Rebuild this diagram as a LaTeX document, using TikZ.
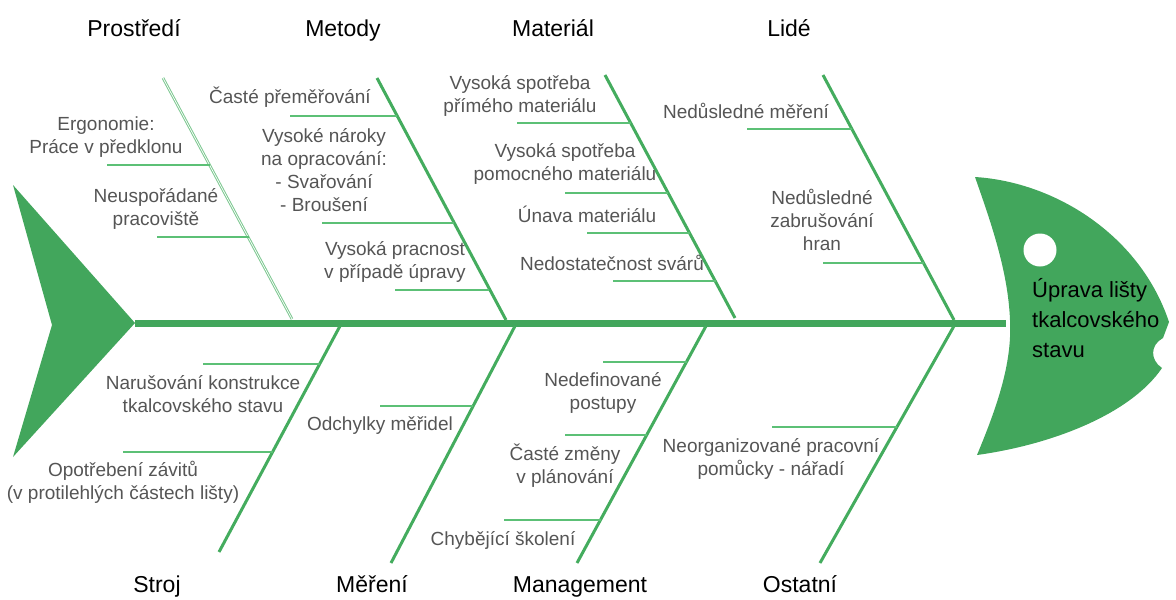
\documentclass[tikz,border=0pt]{standalone}
\usepackage{fontspec}
\setmainfont{Liberation Sans}
\definecolor{fishgreen}{RGB}{66,166,92}
\definecolor{bonegreen}{RGB}{68,172,94}
\definecolor{ribgreen}{RGB}{92,192,118}
\definecolor{palegreen}{RGB}{125,200,145}
\definecolor{causegray}{RGB}{85,85,85}
\newcommand{\causefont}{\fontsize{19}{23}\selectfont}
\newcommand{\catfont}{\fontsize{23}{27}\selectfont}
\newcommand{\headfont}{\fontsize{22}{30}\selectfont}
\begin{document}
\begin{tikzpicture}[x=1pt, y=-1pt,
    bone/.style={draw=bonegreen, line width=3pt},
    rib/.style={draw=ribgreen, line width=2pt},
    cause/.style={text=causegray, font=\causefont, align=center, inner sep=0pt, anchor=base},
    category/.style={font=\catfont, inner sep=0pt, anchor=base}]
    \useasboundingbox (0,0) rectangle (1176,600);

    % Fish: tail, head and eye
    \fill[fishgreen] (13,185) -- (135,323) -- (13,457) -- (52,325) -- cycle;
    \fill[fishgreen] (975,177) .. controls (1055,182) and (1140,235) .. (1169,322)
        -- (1163,338) .. controls (1150,345) and (1150,360) .. (1162,368)
        .. controls (1130,415) and (1050,445) .. (977,455)
        .. controls (1000,400) and (1012,360) .. (1010,320)
        .. controls (1008,270) and (990,220) .. cycle;
    \fill[white] (1040,250) circle (16.5pt);
    \node[anchor=base west, inner sep=0pt, font=\headfont, align=left] (hlava) at (1032,357)
        {Úprava lišty\\tkalcovského\\stavu};

    % Spine
    \coordinate (tail) at (135,323);
    \coordinate (head) at (1006,323);
    \draw[fishgreen, line width=7pt] (tail) -- (head);

    % Bones
    \coordinate (prostredi top) at (163,78);  \coordinate (prostredi bot) at (292,319);
    \coordinate (metody top) at (377,78);     \coordinate (metody bot) at (506,320);
    \coordinate (material top) at (605,75);   \coordinate (material bot) at (735,318);
    \coordinate (lide top) at (823,75);       \coordinate (lide bot) at (954,320);
    \coordinate (stroj top) at (340,326);     \coordinate (stroj bot) at (219,552);
    \coordinate (mereni top) at (515,326);    \coordinate (mereni bot) at (391,563);
    \coordinate (mgmt top) at (706,326);      \coordinate (mgmt bot) at (577,563);
    \coordinate (ostatni top) at (954,326);   \coordinate (ostatni bot) at (820,563);

    \draw[palegreen, line width=1pt, double=white, double distance=0.7pt] (prostredi top) -- (prostredi bot);
    \draw[bone] (metody top) -- (metody bot);
    \draw[bone] (material top) -- (material bot);
    \draw[bone] (lide top) -- (lide bot);
    \draw[bone] (stroj top) -- (stroj bot);
    \draw[bone] (mereni top) -- (mereni bot);
    \draw[bone] (mgmt top) -- (mgmt bot);
    \draw[bone] (ostatni top) -- (ostatni bot);

    % Categories
    \node[category] (prostredi) at (134,36) {Prostředí};
    \node[category] (metody) at (343,36) {Metody};
    \node[category] (material) at (553,36) {Materiál};
    \node[category] (lide) at (789,36) {Lidé};
    \node[category] (stroj) at (157,592) {Stroj};
    \node[category] (mereni) at (372,592) {Měření};
    \node[category] (mgmt) at (580,592) {Management};
    \node[category] (ostatni) at (800,592) {Ostatní};

    % Causes - Prostredi
    \node[cause] (ergo) at (106,153) {Ergonomie:\\Práce v předklonu};
    \node[cause] (neusp) at (156,225) {Neuspořádané\\pracoviště};
    \coordinate (ergo r) at (107,165);    \coordinate (ergo b) at (210,165);
    \coordinate (neusp r) at (157,237);   \coordinate (neusp b) at (249,237);
    \draw[rib] (ergo r) -- (ergo b);
    \draw[rib] (neusp r) -- (neusp b);

    % Causes - Metody
    \node[cause] (caste) at (290,103) {Časté přeměřování};
    \node[cause] (naroky) at (324,211) {Vysoké nároky\\na opracování:\\- Svařování\\- Broušení};
    \node[cause] (pracnost) at (395,278) {Vysoká pracnost\\v případě úpravy};
    \coordinate (caste r) at (290,116);     \coordinate (caste b) at (397,116);
    \coordinate (naroky r) at (322,223);    \coordinate (naroky b) at (454,223);
    \coordinate (pracnost r) at (395,290);  \coordinate (pracnost b) at (489,290);
    \draw[rib] (caste r) -- (caste b);
    \draw[rib] (naroky r) -- (naroky b);
    \draw[rib] (pracnost r) -- (pracnost b);

    % Causes - Material
    \node[cause] (spotr1) at (520,112) {Vysoká spotřeba\\přímého materiálu};
    \node[cause] (spotr2) at (565,180) {Vysoká spotřeba\\pomocného materiálu};
    \node[cause] (unava) at (587,222) {Únava materiálu};
    \node[cause] (svary) at (612,270) {Nedostatečnost svárů};
    \coordinate (spotr1 r) at (517,123);  \coordinate (spotr1 b) at (631,123);
    \coordinate (spotr2 r) at (565,193);  \coordinate (spotr2 b) at (668,193);
    \coordinate (unava r) at (587,233);   \coordinate (unava b) at (690,233);
    \coordinate (svary r) at (613,281);   \coordinate (svary b) at (716,281);
    \draw[rib] (spotr1 r) -- (spotr1 b);
    \draw[rib] (spotr2 r) -- (spotr2 b);
    \draw[rib] (unava r) -- (unava b);
    \draw[rib] (svary r) -- (svary b);

    % Causes - Lide
    \node[cause] (nedmer) at (746,118) {Nedůsledné měření};
    \node[cause] (nedzab) at (822,250) {Nedůsledné\\zabrušování\\hran};
    \coordinate (nedmer r) at (747,129);  \coordinate (nedmer b) at (852,129);
    \coordinate (nedzab r) at (823,263);  \coordinate (nedzab b) at (924,263);
    \draw[rib] (nedmer r) -- (nedmer b);
    \draw[rib] (nedzab r) -- (nedzab b);

    % Causes - Stroj
    \node[cause] (narus) at (203,412) {Narušování konstrukce\\tkalcovského stavu};
    \node[cause] (opotr) at (123,499) {Opotřebení závitů\\(v protilehlých částech lišty)};
    \coordinate (narus r) at (203,364);  \coordinate (narus b) at (320,364);
    \coordinate (opotr r) at (123,452);  \coordinate (opotr b) at (273,452);
    \draw[rib] (narus r) -- (narus b);
    \draw[rib] (opotr r) -- (opotr b);

    % Causes - Mereni
    \node[cause] (odch) at (380,430) {Odchylky měřidel};
    \coordinate (odch r) at (380,406);  \coordinate (odch b) at (473,406);
    \draw[rib] (odch r) -- (odch b);

    % Causes - Management
    \node[cause] (nedef) at (603,409) {Nedefinované\\postupy};
    \node[cause] (zmeny) at (565,483) {Časté změny\\v plánování};
    \node[cause] (skol) at (503,545) {Chybějící školení};
    \coordinate (nedef r) at (603,362);  \coordinate (nedef b) at (687,362);
    \coordinate (zmeny r) at (565,435);  \coordinate (zmeny b) at (647,435);
    \coordinate (skol r) at (504,520);   \coordinate (skol b) at (601,520);
    \draw[rib] (nedef r) -- (nedef b);
    \draw[rib] (zmeny r) -- (zmeny b);
    \draw[rib] (skol r) -- (skol b);

    % Causes - Ostatni
    \node[cause] (neorg) at (771,475) {Neorganizované pracovní\\pomůcky - nářadí};
    \coordinate (neorg r) at (772,427);  \coordinate (neorg b) at (897,427);
    \draw[rib] (neorg r) -- (neorg b);
\end{tikzpicture}
\end{document}
